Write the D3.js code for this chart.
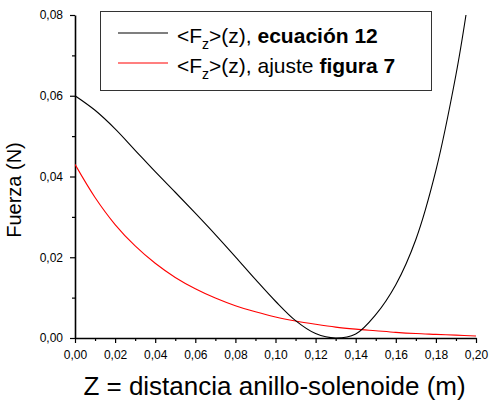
<!DOCTYPE html>
<html>
<head>
<meta charset="utf-8">
<script src="https://cdn.jsdelivr.net/npm/d3@7"></script>
<style>
  html, body { margin: 0; padding: 0; background: #fff; }
  svg { display: block; font-family: Arial, "Liberation Sans", sans-serif; }
</style>
</head>
<body>
<svg id="chart" width="489" height="401"></svg>
<script>
// Mean axial force on the ring vs. ring–solenoid distance
const ecuacionZ = [0.00, 0.01, 0.02, 0.03, 0.04, 0.05, 0.06, 0.07, 0.08, 0.09, 0.10,
                   0.11, 0.12, 0.13, 0.14, 0.15, 0.16, 0.17, 0.18, 0.19, 0.195];
const ecuacionF = [0.0600, 0.0564, 0.0518, 0.0465, 0.0412, 0.0361, 0.0309, 0.0256, 0.0201, 0.0145, 0.0091,
                   0.0043, 0.0011, 0.0000, 0.0010, 0.0058, 0.0132, 0.0244, 0.0415, 0.0652, 0.0800];

const ajusteZ = [0.00, 0.01, 0.02, 0.03, 0.04, 0.05, 0.06, 0.07, 0.08, 0.09, 0.10,
                 0.11, 0.12, 0.13, 0.14, 0.15, 0.16, 0.17, 0.18, 0.19, 0.20];
const ajusteF = [0.0430, 0.0348, 0.0281, 0.0228, 0.0185, 0.0150, 0.0122, 0.0099, 0.0080, 0.0065, 0.0052,
                 0.0042, 0.0034, 0.0027, 0.0022, 0.0018, 0.0014, 0.0011, 0.0009, 0.0007, 0.0005];

const xMajorTicks = [0.00, 0.02, 0.04, 0.06, 0.08, 0.10, 0.12, 0.14, 0.16, 0.18, 0.20];
const xMinorTicks = [0.01, 0.03, 0.05, 0.07, 0.09, 0.11, 0.13, 0.15, 0.17, 0.19];
const yMajorTicks = [0.00, 0.02, 0.04, 0.06, 0.08];
const yMinorTicks = [0.01, 0.03, 0.05, 0.07];

const svg = d3.select("#chart");

const x = d3.scaleLinear().domain([0, 0.20]).range([75, 476]);
const y = d3.scaleLinear().domain([0, 0.08]).range([338, 15]);

const comma = v => d3.format(".2f")(v).replace(".", ",");

// Plot clip
svg.append("defs").append("clipPath").attr("id", "plotClip")
  .append("rect").attr("x", x(0)).attr("y", y(0.08) - 1)
  .attr("width", x(0.20) - x(0) + 1).attr("height", y(0) - y(0.08) + 2);

// Axes
const gx = svg.append("g").attr("transform", `translate(0,${y(0)})`);
gx.call(d3.axisBottom(x).tickValues(xMajorTicks).tickFormat(comma).tickSize(5).tickPadding(7.5).tickSizeOuter(0));
const gxm = svg.append("g").attr("transform", `translate(0,${y(0)})`);
gxm.call(d3.axisBottom(x).tickValues(xMinorTicks).tickFormat("").tickSize(3).tickSizeOuter(0));

const gy = svg.append("g").attr("transform", `translate(${x(0)},0)`);
gy.call(d3.axisLeft(y).tickValues(yMajorTicks).tickFormat(comma).tickSize(5).tickPadding(7).tickSizeOuter(0));
const gym = svg.append("g").attr("transform", `translate(${x(0)},0)`);
gym.call(d3.axisLeft(y).tickValues(yMinorTicks).tickFormat("").tickSize(3).tickSizeOuter(0));

[gx, gy].forEach(g => g.select(".domain").attr("stroke", "#000").attr("stroke-width", 1.6));
[gxm, gym].forEach(g => g.select(".domain").remove());
svg.selectAll(".tick line").attr("stroke", "#000").attr("stroke-width", 1.2);
svg.selectAll(".tick text").attr("fill", "#000")
  .style("font-size", "12px").style("font-family", "Arial, 'Liberation Sans', sans-serif");

// Curves
const line = d3.line().x(d => x(d[0])).y(d => y(d[1])).curve(d3.curveCatmullRom.alpha(0.5));

const plot = svg.append("g").attr("clip-path", "url(#plotClip)");
plot.append("path")
  .datum(ajusteZ.map((z, i) => [z, ajusteF[i]]))
  .attr("fill", "none").attr("stroke", "#ff0000").attr("stroke-width", 1.1)
  .attr("d", line);
plot.append("path")
  .datum(ecuacionZ.map((z, i) => [z, ecuacionF[i]]))
  .attr("fill", "none").attr("stroke", "#000").attr("stroke-width", 1.1)
  .attr("d", line);

// Axis titles
svg.append("text")
  .attr("x", (x(0) + x(0.20)) / 2 - 1).attr("y", 395)
  .attr("text-anchor", "middle").style("font-size", "26px").attr("fill", "#000")
  .text("Z = distancia anillo-solenoide (m)");

svg.append("text")
  .attr("transform", "translate(21,190) rotate(-90)")
  .attr("text-anchor", "middle").style("font-size", "20px").attr("fill", "#000")
  .text("Fuerza (N)");

// Legend
const legend = svg.append("g");
legend.append("rect")
  .attr("x", 100.5).attr("y", 11.5).attr("width", 331).attr("height", 79)
  .attr("fill", "#fff").attr("stroke", "#333").attr("stroke-width", 1);

const legendItems = [
  { color: "#000", plain: ", ", bold: "ecuación 12", ly: 33 },
  { color: "#ff0000", plain: ", ajuste ", bold: "figura 7", ly: 63 }
];
legendItems.forEach(item => {
  legend.append("line")
    .attr("x1", 118).attr("x2", 168).attr("y1", item.ly).attr("y2", item.ly)
    .attr("stroke", item.color).attr("stroke-width", 1.1);
  const t = legend.append("text")
    .attr("x", 177).attr("y", item.ly + 10)
    .style("font-size", "21px").attr("fill", "#000");
  t.append("tspan").text("<F");
  t.append("tspan").attr("dy", 6).style("font-size", "14px").text("z");
  t.append("tspan").attr("dy", -6).text(">(z)" + item.plain);
  t.append("tspan").style("font-weight", "bold").text(item.bold);
});
</script>
</body>
</html>
